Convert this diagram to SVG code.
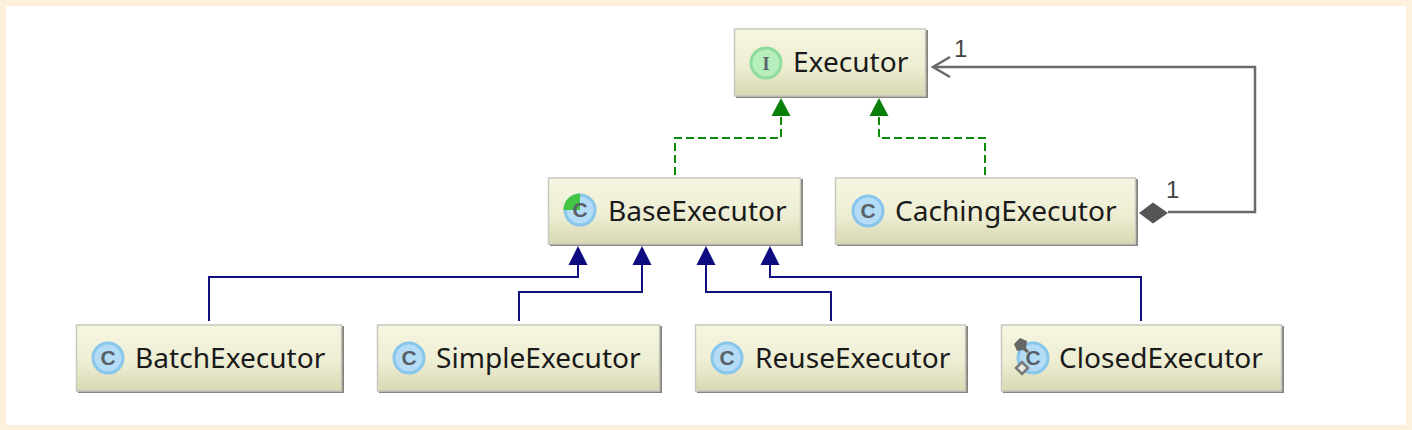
<svg xmlns="http://www.w3.org/2000/svg" width="1412" height="430" viewBox="0 0 1412 430">
<style>
.box{fill:url(#boxfill);stroke:#c8c8c0;stroke-width:1.500}
.shadow{fill:#85857d}
.lbl{font-family:"Noto Sans","Open Sans",sans-serif;font-size:28.100px;fill:#1a1a1a}
.num{font-family:"Liberation Sans",Arial,sans-serif;font-size:24px;fill:#444}
.ic{font-family:"Liberation Sans",Arial,sans-serif;font-size:21px;font-weight:bold;fill:#5a6068;text-anchor:middle}
.cb{fill:#b4dcf6;stroke:#88c6ec;stroke-width:3}
.ib{fill:#b6eebc;stroke:#90dc9e;stroke-width:3}
.d{fill:none;stroke:#0c8a0c;stroke-width:2;stroke-dasharray:8 4}
.n{fill:none;stroke:#10107e;stroke-width:2}
.g{fill:none;stroke:#6a6a6a;stroke-width:2.500}
</style>
<defs>
<linearGradient id="boxfill" x1="0" y1="0" x2="0" y2="1"><stop offset="0" stop-color="#f6f6e2"/><stop offset="0.55" stop-color="#eeeed4"/><stop offset="1" stop-color="#d8d8b2"/></linearGradient>
</defs>
<rect width="1412" height="430" fill="#fdf0dc"/>
<rect x="6" y="6" width="1400" height="419" fill="#fff"/>
<g id="connectors">
<path class="d" d="M675 175V138H781V112"/><path d="M781 98l-9.500 18h19z" fill="#0a800a"/>
<path class="d" d="M985 175V138H879V112"/><path d="M879 98l-9.500 18h19z" fill="#0a800a"/>
<path class="n" d="M209 321V277H578V262"/><path d="M578 246l-9.500 19h19z" fill="#0c0c80"/>
<path class="n" d="M519 321V292H642V262"/><path d="M642 246l-9.500 19h19z" fill="#0c0c80"/>
<path class="n" d="M831 321V292H706V262"/><path d="M706 246l-9.500 19h19z" fill="#0c0c80"/>
<path class="n" d="M1141 321V277H770V262"/><path d="M770 246l-9.500 19h19z" fill="#0c0c80"/>
<path class="g" d="M1168 212H1255V67H933M950 57L933 67L950 77"/>
<path d="M1139 213l14-10.500 15 10.500-15 10.500z" fill="#555"/>
<text class="num" x="954" y="57">1</text>
<text class="num" x="1166" y="198">1</text>
</g>
<g id="Executor"><rect class="shadow" x="736" y="30" width="192" height="68"/><rect class="box" x="734.500" y="29" width="191" height="67"/><circle class="ib" cx="766" cy="63" r="15"/><text class="ic" x="766" y="70" style="font-family:'Liberation Serif',serif;font-size:18px">I</text><text class="lbl" x="793" y="72">Executor</text></g>
<g id="BaseExecutor"><rect class="shadow" x="550" y="179" width="253" height="67"/><rect class="box" x="548.500" y="178" width="252" height="66"/><circle class="cb" cx="580" cy="210" r="15"/><path d="M580 210V193.500A16.500 16.500 0 0 0 563.500 210z" fill="#44c444"/><text class="ic" x="580" y="217">C</text><text class="lbl" x="608" y="221">BaseExecutor</text></g>
<g id="CachingExecutor"><rect class="shadow" x="837" y="179" width="301" height="67"/><rect class="box" x="835.500" y="178" width="300" height="66"/><circle class="cb" cx="868" cy="211" r="15"/><text class="ic" x="868" y="218">C</text><text class="lbl" x="895" y="221">CachingExecutor</text></g>
<g id="BatchExecutor"><rect class="shadow" x="78" y="326" width="266" height="67"/><rect class="box" x="76.500" y="325" width="265" height="66"/><circle class="cb" cx="108" cy="358" r="15"/><text class="ic" x="108" y="365">C</text><text class="lbl" x="135" y="368">BatchExecutor</text></g>
<g id="SimpleExecutor"><rect class="shadow" x="379" y="326" width="283" height="67"/><rect class="box" x="377.500" y="325" width="282" height="66"/><circle class="cb" cx="409" cy="358" r="15"/><text class="ic" x="409" y="365">C</text><text class="lbl" x="436" y="368">SimpleExecutor</text></g>
<g id="ReuseExecutor"><rect class="shadow" x="697" y="326" width="271" height="67"/><rect class="box" x="695.500" y="325" width="270" height="66"/><circle class="cb" cx="727" cy="358" r="15"/><text class="ic" x="727" y="365">C</text><text class="lbl" x="755" y="368">ReuseExecutor</text></g>
<g id="ClosedExecutor"><rect class="shadow" x="1003" y="326" width="281" height="67"/><rect class="box" x="1001.500" y="325" width="280" height="66"/><circle class="cb" cx="1033" cy="358" r="15"/><text class="ic" x="1033" y="365">C</text><path d="M1014 344l6-6 7 3-1 7 3 3-2 2-4-3-6 1z" fill="#666"/><path d="M1016 368l6-6 6 6-6 6z" fill="#e8e8e0" stroke="#777" stroke-width="2.500"/><text class="lbl" x="1059" y="368">ClosedExecutor</text></g>
</svg>
